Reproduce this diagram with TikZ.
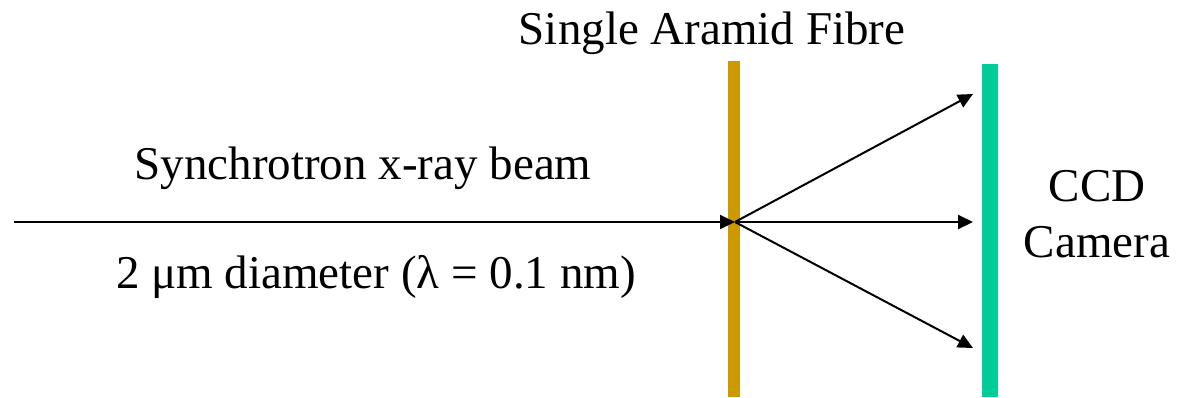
\documentclass[tikz,border=0pt]{standalone}
\usepackage{fontspec}
\setmainfont{Liberation Serif}
\usetikzlibrary{arrows.meta}
\definecolor{fibregold}{HTML}{CC9900}
\definecolor{ccdgreen}{HTML}{00CC99}
\tikzset{
  beam/.style={line width=2pt, -{Triangle[length=15pt,width=14pt]}},
  lbl/.style={font=\fontsize{47}{50}\selectfont, inner sep=0pt, anchor=center},
}
\begin{document}
\begin{tikzpicture}[x=1pt,y=-1pt]
\useasboundingbox (0,0) rectangle (1187,397);
\fill[fibregold] (728,61) rectangle (740,397);
\fill[ccdgreen] (982,64) rectangle (998,397);
\coordinate (src) at (14,222);
\coordinate (hit) at (735,222);
\coordinate (up) at (973,94);
\coordinate (mid) at (973,222);
\coordinate (low) at (973,348);
\draw[beam] (src) -- (hit);
\draw[beam] (hit) -- (up);
\draw[beam] (hit) -- (mid);
\draw[beam] (hit) -- (low);
\node[lbl] (fibre) at (712,33) {Single Aramid Fibre};
\node[lbl] (sync) at (363,168) {Synchrotron x-ray beam};
\node[lbl] (diam) at (376,277) {2 μm diameter (λ = 0.1 nm)};
\node[lbl] (ccd) at (1097,186) {CCD};
\node[lbl] (cam) at (1097,242) {Camera};
\end{tikzpicture}
\end{document}
